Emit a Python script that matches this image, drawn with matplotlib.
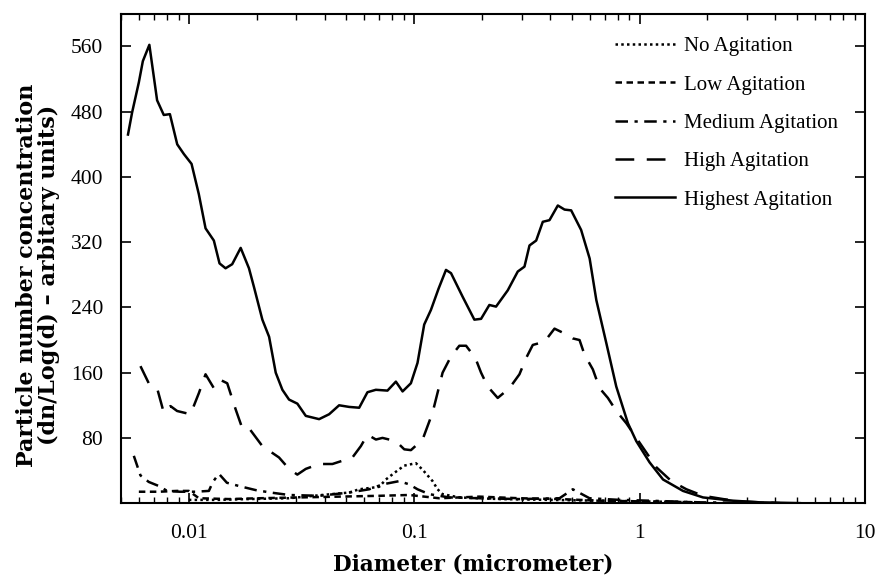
import matplotlib
matplotlib.use('Agg')
import matplotlib.pyplot as plt
from matplotlib.ticker import LogLocator, FixedLocator, NullFormatter, FixedFormatter

plt.rcParams['font.family'] = ['Liberation Serif', 'DejaVu Serif']

# Highest agitation (solid)
highest_d = [0.00537, 0.0056, 0.0060, 0.00625, 0.00668, 0.00723, 0.00774, 0.00824, 0.00888, 0.00951,
             0.01028, 0.01107, 0.01186, 0.01291, 0.01368, 0.01455, 0.01557, 0.01698, 0.01848, 0.01945,
             0.02119, 0.0227, 0.02429, 0.026, 0.02783, 0.0303, 0.03302, 0.03784, 0.04191, 0.04642,
             0.05143, 0.05698, 0.062, 0.06755, 0.07606, 0.08289, 0.08876, 0.09662, 0.1034, 0.1107,
             0.1186, 0.1282, 0.1383, 0.1456, 0.164, 0.1848, 0.1979, 0.2154, 0.2306, 0.26,
             0.2879, 0.3083, 0.3246, 0.3475, 0.3718, 0.3981, 0.4335, 0.4642, 0.4969, 0.55,
             0.60, 0.6424, 0.7118, 0.7875, 0.8872, 0.9663, 1.107, 1.27, 1.557, 1.911,
             2.598, 3.415, 5.14]
highest_v = [452, 479, 516, 542, 562, 494, 476, 477, 440, 428,
             416, 379, 337, 322, 294, 288, 293, 313, 288, 265,
             225, 204, 160, 139, 127, 122, 107, 103, 109, 120,
             118, 117, 136, 139, 138, 149, 137, 147, 172, 219,
             237, 263, 286, 282, 253, 225, 226, 243, 241, 261,
             284, 290, 316, 322, 345, 347, 365, 360, 359, 335,
             300, 249, 196, 143, 98, 76, 50, 29, 15, 7,
             3, 1, 0]

# High agitation (long dashes)
high_d = [0.0061, 0.00664, 0.00723, 0.00774, 0.00829, 0.00887, 0.01017, 0.01108, 0.01186, 0.01291,
          0.01383, 0.0148, 0.01613, 0.01725, 0.01848, 0.02118, 0.02512, 0.02783, 0.03029, 0.03302,
          0.03784, 0.04335, 0.05318, 0.05798, 0.06201, 0.06759, 0.07229, 0.08292, 0.09028, 0.09668,
          0.1089, 0.1206, 0.1336, 0.1456, 0.1585, 0.1698, 0.1867, 0.1979, 0.2118, 0.2346,
          0.2644, 0.2929, 0.3137, 0.3357, 0.3784, 0.4191, 0.4801, 0.5052, 0.5412, 0.5696,
          0.62, 0.664, 0.723, 0.7878, 0.8728, 0.9667, 1.071, 1.186, 1.383, 1.613,
          1.911, 2.346, 2.783, 4.191]
high_v = [168, 147, 141, 111, 119, 113, 109, 135, 158, 141,
          151, 147, 115, 92, 92, 70, 56, 42, 35, 42,
          48, 48, 56, 70, 84, 78, 80, 76, 66, 65,
          78, 111, 160, 180, 193, 193, 178, 160, 143, 129,
          141, 158, 178, 194, 198, 214, 206, 202, 200, 182,
          164, 141, 129, 113, 98, 80, 62, 44, 27, 17,
          9, 5, 2, 0]

# Medium agitation (dash-dot)
medium_d = [0.0057, 0.0061, 0.00664, 0.00736, 0.00801, 0.00912, 0.01071, 0.01227, 0.01278, 0.01359,
            0.01475, 0.01668, 0.01979, 0.02307, 0.02783, 0.03784, 0.05142, 0.0631, 0.07229, 0.08577,
            0.09502, 0.1034, 0.1166, 0.1431, 0.1945, 0.2929, 0.441, 0.5052, 0.5995, 0.815,
            1.108, 1.848, 4.191]
medium_v = [58, 34, 26, 21, 15, 14, 14, 15, 26, 36,
            25, 21, 16, 13, 10, 9, 13, 17, 23, 27,
            23, 17, 11, 7, 6, 5, 6, 17, 6, 4,
            3, 1, 0]

# Low agitation (short dashes)
low_d = [0.006, 0.00736, 0.00885, 0.01, 0.01108, 0.01506, 0.02047, 0.03083, 0.04642, 0.06988,
         0.09502, 0.1291, 0.1945, 0.2929, 0.441, 0.664, 1.108, 1.848]
low_v = [14, 14, 15, 15, 6, 5, 6, 7, 8, 9,
         10, 6, 8, 6, 5, 3, 2, 1]

# No agitation (dotted)
none_d = [0.01, 0.01359, 0.01848, 0.02783, 0.03901, 0.05142, 0.05696, 0.06988, 0.07484, 0.0815,
          0.09028, 0.1017, 0.1089, 0.1206, 0.1269, 0.1336, 0.1585, 0.2387, 0.3981, 0.664,
          1.108, 1.848]
none_v = [4, 4, 5, 6, 10, 13, 17, 20, 29, 37,
          46, 49, 41, 27, 17, 11, 7, 5, 4, 3,
          2, 1]

y_ticks = [80, 160, 240, 320, 400, 480, 560]
x_ticks = [0.01, 0.1, 1, 10]
x_labels = ['0.01', '0.1', '1', '10']

fig = plt.figure(figsize=(8.8, 5.77), dpi=100)
ax = fig.add_axes([0.1375, 0.128, 0.8455, 0.848])

lw = 1.8
ax.plot(none_d, none_v, color='black', lw=lw, linestyle=(0, (1, 1.3)), label='No Agitation')
ax.plot(low_d, low_v, color='black', lw=lw, linestyle=(0, (2.6, 1.8)), label='Low Agitation')
ax.plot(medium_d, medium_v, color='black', lw=lw, linestyle=(0, (5, 2.6, 1.3, 2.6)), label='Medium Agitation')
ax.plot(high_d, high_v, color='black', lw=lw, linestyle=(0, (7.5, 5)), label='High Agitation')
ax.plot(highest_d, highest_v, color='black', lw=lw, linestyle='-', label='Highest Agitation')

ax.set_xscale('log')
ax.set_xlim(0.005, 10)
ax.set_ylim(0, 600)

ax.xaxis.set_major_locator(FixedLocator(x_ticks))
ax.xaxis.set_major_formatter(FixedFormatter(x_labels))
ax.xaxis.set_minor_locator(LogLocator(base=10, subs=range(2, 10)))
ax.xaxis.set_minor_formatter(NullFormatter())
ax.set_yticks(y_ticks)

ax.tick_params(which='major', direction='in', length=7, width=1.2, top=True, right=True,
               labelsize=15.5)
ax.tick_params(axis='y', which='major', pad=13)
ax.tick_params(axis='x', which='major', pad=15)
ax.tick_params(which='minor', direction='in', length=4, width=1.0, top=True, right=True)
ax.tick_params(axis='y', which='minor', left=False, right=False)
for s in ax.spines.values():
    s.set_linewidth(1.5)

ax.set_xlabel('Diameter (micrometer)', fontsize=15.5, fontweight='bold',
              family=['DejaVu Serif'], va='top')
ax.xaxis.set_label_coords(0.474, -0.102)
ax.set_ylabel('Particle number concentration\n(dn/Log(d) \u2013 arbitary units)', fontsize=16,
              fontweight='bold', family=['DejaVu Serif'], linespacing=1.0)
ax.yaxis.set_label_coords(-0.082, 0.466)

ax.legend(loc='upper left', frameon=False, fontsize=15, handlelength=2.9,
          handletextpad=0.42, labelspacing=0.9, borderpad=0, borderaxespad=0,
          bbox_to_anchor=(0.664, 0.953))

fig.savefig('out.png', dpi=100)
